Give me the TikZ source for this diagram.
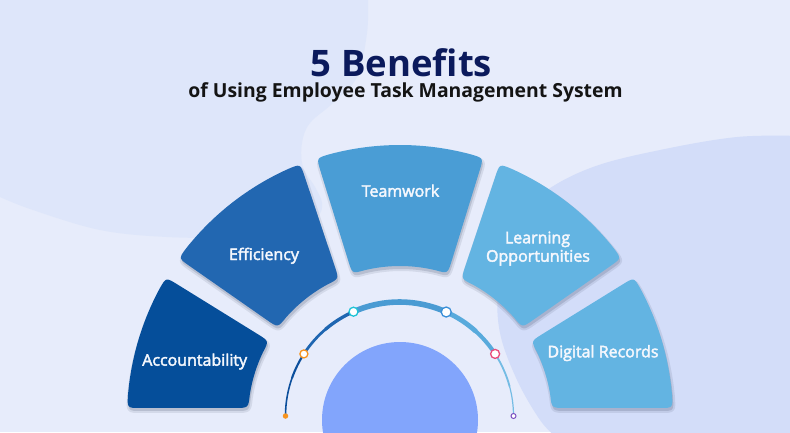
\documentclass[tikz,border=0pt]{standalone}
\usepackage{fontspec}
\setmainfont{Open Sans}
\newfontfamily\lblfont{Open Sans}[BoldFont={Open Sans}, BoldFeatures={FakeBold=2.6}]
\usetikzlibrary{calc}
\definecolor{bgmain}{HTML}{E7ECFB}
\definecolor{bgleft}{HTML}{DEE6FA}
\definecolor{bgright}{HTML}{D3DDF9}
\definecolor{cAcc}{HTML}{054E9A}
\definecolor{cEff}{HTML}{2267B1}
\definecolor{cTeam}{HTML}{4A9DD5}
\definecolor{cLearn}{HTML}{63B4E2}
\definecolor{cDig}{HTML}{63B4E2}
\definecolor{cCore}{HTML}{82A5FC}
\definecolor{cTitle}{HTML}{0B1A5C}
\definecolor{cSub}{HTML}{141414}
\definecolor{arcA}{HTML}{0C4F9C}
\definecolor{arcB}{HTML}{1F66B1}
\definecolor{arcC}{HTML}{4A9BD3}
\definecolor{arcD}{HTML}{58AADC}
\definecolor{arcE}{HTML}{74BCE4}
\definecolor{dOrange}{HTML}{F7931E}
\definecolor{dCyan}{HTML}{1EC3D6}
\definecolor{dBlue}{HTML}{3A8FD8}
\definecolor{dPink}{HTML}{E94D7C}
\definecolor{dPurple}{HTML}{7B4FC0}
\definecolor{labeltext}{HTML}{F4F7FD}
\definecolor{shadowc}{HTML}{2A3550}

\def\Ro{273}\def\Ri{152}\def\rc{13}
\newcommand\segdef[5]{%
  \coordinate (OL) at ($(#1)+(#2:\Ro pt)$);
  \coordinate (OH) at ($(#1)+(#3:\Ro pt)$);
  \coordinate (IL) at ($(#1)+(#4:\Ri pt)$);
  \coordinate (IH) at ($(#1)+(#5:\Ri pt)$);
  \pgfmathsetmacro\dO{\rc/\Ro*180/pi}%
  \pgfmathsetmacro\dI{\rc/\Ri*180/pi}%
  \pgfmathsetmacro\aOL{#2+\dO}%
  \pgfmathsetmacro\aOH{#3-\dO}%
  \pgfmathsetmacro\aIL{#4+\dI}%
  \pgfmathsetmacro\aIH{#5-\dI}%
  \def\segctr{#1}%
}
\newcommand\segpath{($(OH)!\rc pt!(IH)$) .. controls (OH) .. ($(\segctr)+(\aOH:\Ro pt)$) arc[start angle=\aOH, end angle=\aOL, radius=\Ro pt] .. controls (OL) .. ($(OL)!\rc pt!(IL)$) -- ($(IL)!\rc pt!(OL)$) .. controls (IL) .. ($(\segctr)+(\aIL:\Ri pt)$) arc[start angle=\aIL, end angle=\aIH, radius=\Ri pt] .. controls (IH) .. ($(IH)!\rc pt!(OH)$) -- cycle}
\newcommand\fanseg[5]{%
  \segdef{OS}{#1}{#2}{#3}{#4}
  \begin{scope}[transparency group, opacity=0.10]
    \filldraw[shadowc, line width=4pt, line join=round] \segpath;
  \end{scope}
  \begin{scope}[transparency group, opacity=0.16]
    \fill[shadowc] \segpath;
  \end{scope}
  \segdef{O}{#1}{#2}{#3}{#4}
  \fill[#5] \segpath;
}

\begin{document}
\begin{tikzpicture}[x=1pt,y=1pt,
  lbl/.style={text=labeltext, font=\lblfont\bfseries\fontsize{16}{19}\selectfont, anchor=base, inner sep=0pt},
  dotring/.style={circle, fill=white, line width=1.3pt, inner sep=0pt}]
\useasboundingbox (0,0) rectangle (790,432);
\clip (0,0) rectangle (790,432);
% background
\fill[bgmain] (0,0) rectangle (790,432);
\fill[bgleft] plot[smooth, tension=0.6] coordinates {(368,432) (367,399) (357,355) (333,329) (310,309) (302,289) (303,265) (315,245) (322,229) (317,215) (290,202) (233,195) (167,195) (100,202) (33,222) (0,235)} -- (0,432) -- cycle;
\fill[bgright] plot[smooth, tension=0.6] coordinates {(800,296) (737,295) (660,282) (593,265) (543,239) (507,202) (498,145) (500,99) (517,52) (540,12) (556,-5)} -- (800,-5) -- cycle;

% centres
\coordinate (O) at (400,14);
\coordinate (OS) at (401,11);
\coordinate (A) at (399.5,16);

% core circle
\fill[cCore] (400,12) circle[radius=78pt];

% fan segments
\fanseg{149}{177.9}{149.6}{176.2}{cAcc}
\fanseg{111.4}{144.2}{113.7}{143.5}{cEff}
\fanseg{72.2}{107.8}{71.7}{108.3}{cTeam}
\fanseg{35.8}{68.6}{36.5}{66.3}{cLearn}
\fanseg{2.1}{31}{3.8}{30.4}{cDig}

% progress arc
\draw[arcA, line width=1.6pt] ($(A)+(180:114pt)$) arc[start angle=180, end angle=160, radius=114pt];
\draw[arcA, line width=2.1pt] ($(A)+(160.5:114pt)$) arc[start angle=160.5, end angle=147, radius=114pt];
\draw[arcB, line width=2.7pt] ($(A)+(147:114pt)$) arc[start angle=147, end angle=130, radius=114pt];
\draw[arcB, line width=3.3pt] ($(A)+(130.5:114pt)$) arc[start angle=130.5, end angle=113.8, radius=114pt];
\draw[arcC, line width=5.6pt] ($(A)+(113.8:114pt)$) arc[start angle=113.8, end angle=65.8, radius=114pt];
\draw[arcD, line width=4.8pt] ($(A)+(65.8:114pt)$) arc[start angle=65.8, end angle=48, radius=114pt];
\draw[arcD, line width=4.0pt] ($(A)+(48.5:114pt)$) arc[start angle=48.5, end angle=33, radius=114pt];
\draw[arcE, line width=1.8pt] ($(A)+(33:114pt)$) arc[start angle=33, end angle=15, radius=114pt];
\draw[arcE, line width=1.2pt] ($(A)+(15.5:114pt)$) arc[start angle=15.5, end angle=0, radius=114pt];

% dots
\node[circle, fill=dOrange, inner sep=0pt, minimum size=5.5pt] (dot0) at ($(A)+(180:114pt)$) {};
\node[dotring, draw=dOrange, minimum size=8pt] (dot1) at ($(A)+(147:114pt)$) {};
\node[dotring, draw=dCyan, minimum size=9pt] (dot2) at ($(A)+(113.8:114pt)$) {};
\node[dotring, draw=dBlue, minimum size=10pt] (dot3) at ($(A)+(65.8:114pt)$) {};
\node[dotring, draw=dPink, minimum size=9pt] (dot4) at ($(A)+(33:114pt)$) {};
\node[dotring, draw=dPurple, line width=1pt, minimum size=5pt] (dot5) at ($(A)+(0:114pt)$) {};

% titles
\node[font=\bfseries\fontsize{36.5}{40}\selectfont, text=cTitle, anchor=base] (title) at (401.5,355) {5 Benefits};
\node[font=\bfseries\fontsize{19.4}{22}\selectfont, text=cSub, anchor=base] (subtitle) at (405.5,334.3) {of Using Employee Task Management System};

% labels
\node[lbl] (team) at (400.5,235.3) {Teamwork};
\node[lbl] (eff) at (264,172) {Efficiency};
\node[lbl] (acc) at (194.7,66.3) {Accountability};
\node[lbl] (learn1) at (537.5,188.7) {Learning};
\node[lbl] (learn2) at (538,170.3) {Opportunities};
\node[lbl] (dig) at (603,74.7) {Digital Records};
\end{tikzpicture}
\end{document}
